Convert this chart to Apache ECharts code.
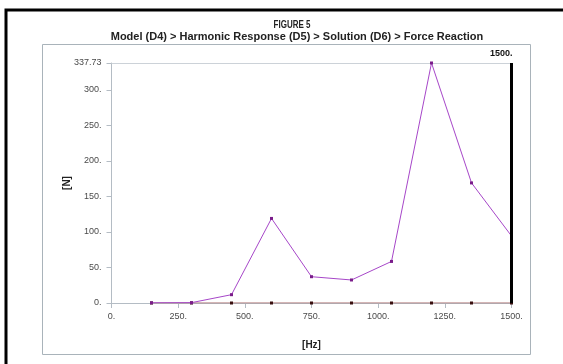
<!DOCTYPE html>
<html>
<head>
<meta charset="utf-8">
<script src="https://cdn.jsdelivr.net/npm/echarts@6/dist/echarts.min.js"></script>
<style>
  html, body { margin: 0; padding: 0; background: #fff; }
  #chart { width: 563px; height: 364px; }
</style>
</head>
<body>
<div id="chart"></div>
<script>
// Frequency steps [Hz]
const frequencies = [150, 300, 450, 600, 750, 900, 1050, 1200, 1350, 1500];
// Force reaction amplitude [N]
const forceReaction = [0.3, 0.5, 11.7, 119, 37, 32.4, 58.5, 337.73, 169, 94.3];
// Zero baseline series
const baseline = [0, 0, 0, 0, 0, 0, 0, 0, 0, 0];
// Axis settings
const xMax = 1500;
const yMax = 337.73;
const cursorFreq = 1500;

const titleText = 'FIGURE 5';
const subtitleText = 'Model (D4) > Harmonic Response (D5) > Solution (D6) > Force Reaction';

const chart = echarts.init(document.getElementById('chart'), null, { renderer: 'canvas' });

const fmt = v => Number.isInteger(v) ? v + '.' : v.toFixed(2);
const labelFont = { fontFamily: 'Liberation Sans', fontSize: 9, color: '#4a4a4a' };

chart.setOption({
  animation: false,
  backgroundColor: '#fff',
  graphic: [
    { type: 'rect', shape: { x: 6, y: 10, width: 700, height: 500 },
      style: { fill: 'none', stroke: '#000', lineWidth: 3 }, z: -1 },
    { type: 'rect', shape: { x: 42.5, y: 44.5, width: 488, height: 310 },
      style: { fill: 'none', stroke: '#a9b3ba', lineWidth: 1 }, z: -1 },
    // condensed heading line
    { type: 'text', x: 292, y: 20, scaleX: 0.8,
      style: { text: titleText, textAlign: 'center', textVerticalAlign: 'top',
        font: 'bold 10px "Liberation Sans"', fill: '#222' } }
  ],
  title: [
    { text: subtitleText, left: 292, top: 26, textAlign: 'center',
      textStyle: { fontFamily: 'Liberation Sans', fontSize: 11, fontWeight: 'bold', color: '#222' } }
  ],
  grid: { left: 111.5, right: 51.5, top: 63, bottom: 61 },
  xAxis: [{
    type: 'value', min: 0, max: xMax, interval: 250,
    name: '[Hz]', nameLocation: 'middle', nameGap: 37,
    nameTextStyle: { fontFamily: 'Liberation Sans', fontSize: 10, fontWeight: 'bold', color: '#222' },
    axisLine: { lineStyle: { color: '#b4bcc4', width: 1 } },
    axisTick: { show: true, length: 5, lineStyle: { color: '#b4bcc4' } },
    axisLabel: Object.assign({ formatter: fmt, margin: 9 }, labelFont),
    splitLine: { show: false }
  }, {
    type: 'value', min: 0, max: xMax, position: 'top',
    axisLine: { show: true, onZero: false, lineStyle: { color: '#ccd2d8', width: 1 } },
    axisTick: { show: false }, axisLabel: { show: false }, splitLine: { show: false }
  }],
  yAxis: {
    type: 'value', min: 0, max: yMax, interval: 50,
    name: '[N]', nameLocation: 'middle', nameGap: 39, nameRotate: 90,
    nameMoveOverlap: false,
    nameTextStyle: { fontFamily: 'Liberation Sans', fontSize: 10, fontWeight: 'bold', color: '#222' },
    axisLine: { show: true, lineStyle: { color: '#b4bcc4', width: 1 } },
    axisTick: { show: true, length: 5, lineStyle: { color: '#b4bcc4' } },
    axisLabel: Object.assign({ formatter: fmt, margin: 10 }, labelFont),
    splitLine: { show: false }
  },
  series: [{
    name: 'Baseline', type: 'line',
    data: frequencies.map((f, i) => [f, baseline[i]]),
    symbol: 'rect', symbolSize: 3,
    lineStyle: { color: '#a86a6a', width: 1 },
    itemStyle: { color: '#3a1010' },
    z: 2
  }, {
    name: 'Force Reaction', type: 'line',
    data: frequencies.map((f, i) => [f, forceReaction[i]]),
    symbol: 'rect', symbolSize: 3,
    lineStyle: { color: '#a646c8', width: 1 },
    itemStyle: { color: '#7a1c8a' },
    z: 3,
    markLine: {
      silent: true, symbol: 'none',
      lineStyle: { color: '#000', width: 3, type: 'solid' },
      label: { show: true, position: 'end', formatter: fmt(cursorFreq),
        fontFamily: 'Liberation Sans', fontSize: 9, fontWeight: 'bold', color: '#111',
        align: 'right', offset: [1, 0] },
      data: [{ xAxis: cursorFreq }]
    }
  }]
});
</script>
</body>
</html>
